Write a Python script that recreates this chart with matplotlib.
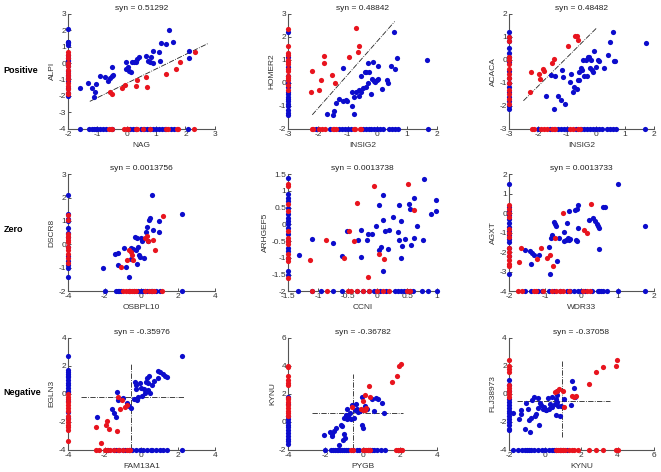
import numpy as np
import matplotlib
matplotlib.use("Agg")
from matplotlib import pyplot as plt
from matplotlib.ticker import FuncFormatter

plt.rcParams['font.family'] = ['Liberation Sans', 'DejaVu Sans']
plt.rcParams['axes.unicode_minus'] = False

BLUE = '#0c0ccc'
RED = '#e8141e'

row_names = ["Positive", "Zero", "Negative"]
titles = ["syn = 0.51292", "syn = 0.48842", "syn = 0.48482",
          "syn = 0.0013756", "syn = 0.0013738", "syn = 0.0013733",
          "syn = -0.35976", "syn = -0.36782", "syn = -0.37058"]
xlabels = ["NAG", "INSIG2", "INSIG2", "OSBPL10", "CCNI", "WDR33", "FAM13A1", "PYGB", "KYNU"]
ylabels = ["ALPI", "HOMER2", "ACACA", "DSCR8", "ARHGEF5", "AGXT", "EGLN3", "KYNU", "FLJ38973"]
xlims = [(-2, 3), (-3, 2), (-3, 2), (-4, 4), (-1.5, 1), (-2, 2), (-4, 4), (-4, 4), (-2, 6)]
ylims = [(-4, 3), (-2, 3), (-3, 2), (-2, 3), (-2, 1.5), (-4, 2), (-4, 4), (-2, 6), (-4, 4)]
xsteps = [1, 1, 1, 2, 0.5, 1, 2, 2, 2]
ysteps = [1, 1, 1, 1, 0.5, 1, 2, 2, 2]

# ---- panel 1 : NAG vs ALPI
p1_blue = [(-1.60,-1.54),(-1.32,-1.21),(-1.20,-1.52),(-1.11,-2.08),(-1.07,-1.78),(-1.06,-1.28),
           (-0.90,-0.81),(-0.75,-0.83),(-0.64,-1.07),(-0.58,-0.93),(-0.52,-0.77),(-0.49,-0.26),
           (-0.47,-0.71),(-0.03,-0.36),(-0.01,0.08),(0.05,-0.26),(0.08,-0.47),(0.16,-0.57),
           (0.19,0.08),(0.24,0.04),(0.31,0.04),(0.35,0.24),(0.42,0.38),(0.67,0.43),(0.73,0.14),
           (0.78,0.08),(0.84,0.38),(0.88,0.71),(0.90,-0.02),(1.10,0.65),(1.13,0.14),(1.18,1.23),
           (1.32,1.13),(1.44,2.02),(1.56,1.30),(2.11,0.71),(2.11,0.28)]
p1_red = [(-0.58,-1.78),(-0.50,-1.90),(-0.15,-1.54),(-0.07,-1.32),(0.36,-1.03),(0.33,-1.40),
          (0.64,-0.83),(0.69,-1.44),(1.33,-0.67),(1.69,-0.36),(1.81,0.04),(2.32,0.65)]
p1_blue_yonly = [2.05,1.3,1.25,1.2,1.1,0.5,0.3,0.2,0.1,0,-0.2,-0.5,-0.7,-0.9,-1.0,-1.1,-1.5,-1.8,-2.0]
p1_red_yonly = [0.7,0.5,0.3,0,-0.2,-0.4,-0.6,-0.8,-1.0,-1.2,-1.4,-1.6,-1.8,-1.9]
p1_blue_xonly = [-1.6,-1.3,-1.2,-1.1,-1.05,-1.0,-0.9,-0.8,-0.7,-0.5,0.1,0.2,0.3,0.5,0.6,0.7,
                 0.8,0.9,1.0,1.1,1.2,1.3,1.5,1.6,2.1]
p1_red_xonly = [-0.6,-0.55,-0.5,-0.1,0,0.05,0.3,0.35,0.55,0.8,1.35,1.4,1.7,1.75,2.3]
p1_line = [(-1.26,-2.33),(2.77,1.19)]

# ---- panel 2 : INSIG2 vs HOMER2
p2_blue = [(-1.68,-1.34),(-1.51,-1.39),(-1.46,-1.21),(-1.38,-0.88),(-1.28,-0.69),(-1.17,0.64),
           (-1.15,-0.78),(-1.06,-0.74),(-1.02,-0.78),(-0.87,-0.42),(-0.87,-1.0),(-0.80,-1.34),
           (-0.79,-0.62),(-0.71,-0.42),(-0.62,-0.59),(-0.62,-0.30),(-0.56,-0.38),(-0.54,0.30),
           (-0.48,-0.23),(-0.43,0.49),(-0.40,-0.19),(-0.37,0.49),(-0.33,0.87),(-0.33,-0.01),
           (-0.27,0.49),(-0.21,-0.48),(-0.18,0.16),(-0.15,0.92),(-0.13,0.06),(-0.07,0.03),
           (-0.03,0.13),(0.02,0.16),(0.02,0.71),(0.14,-0.27),(0.33,0.13),(0.36,-0.01),
           (0.47,0.74),(0.55,2.20),(0.60,0.59),(0.67,1.07),(1.68,1.00)]
p2_red = [(-2.24,-0.40),(-2.19,0.52),(-1.89,0.13),(-1.95,-0.32),(-1.80,1.18),(-1.79,0.88),
          (-1.53,0.35),(-1.42,0.01),(-0.95,1.11),(-0.73,2.37),(-0.65,1.33),(-0.63,1.60)]
p2_blue_yonly = [2.2,1.1,0.7,0.3,0,-0.2,-0.4,-0.5,-0.6,-0.7,-0.8,-0.9,-1.0,-1.2,-1.3,-1.4]
p2_red_yonly = [2.35,1.6,1.3,1.2,1.0,0.9,0.8,0.6,0.5,0.3,0.2,0.1,-0.1,-0.3]
p2_blue_xonly = [-2.05,-1.6,-1.3,-1.2,-1.1,-1.0,-0.9,-0.5,-0.4,-0.3,-0.2,-0.1,0,0.1,0.2,
                 0.4,0.5,0.6,0.7,1.7]
p2_red_xonly = [-2.2,-2.15,-1.95,-1.85,-1.75,-1.5,-1.45,-1.4,-0.8,-0.75,-0.6,-0.55]
p2_line = [(-2.19,-1.39),(0.58,2.66)]

# ---- panel 3 : INSIG2 vs ACACA
p3_blue = [(-1.71,-1.59),(-1.55,-0.65),(-1.40,-0.69),(-1.43,-2.14),(-1.30,-1.56),(-1.19,-1.73),
           (-1.16,-0.43),(-1.13,-0.77),(-1.05,-1.91),(-0.90,-0.98),(-0.85,-0.61),(-0.78,-1.42),
           (-0.76,-1.18),(-0.66,-1.27),(-0.60,-0.87),(-0.58,-0.55),(-0.58,-0.90),(-0.52,-0.36),
           (-0.47,-0.46),(-0.43,-0.03),(-0.41,-0.72),(-0.35,0.0),(-0.31,-0.72),(-0.27,0.12),
           (-0.22,0.10),(-0.19,-0.36),(-0.16,-0.03),(-0.13,-0.43),(-0.09,-0.55),(-0.05,0.36),
           (0.0,-0.33),(0.06,-0.03),(0.12,-0.07),(0.27,-0.36),(0.42,0.22),(0.50,0.77),
           (0.58,1.20),(0.62,-0.07),(0.67,-0.07),(1.74,0.72)]
p3_red = [(-2.27,-1.40),(-2.23,-0.51),(-1.98,-0.61),(-1.92,-0.84),(-1.83,-0.40),(-1.80,-0.48),
          (-1.53,-0.12),(-1.45,0.03),(-0.95,0.61),(-0.73,1.04),(-0.66,1.04),(-0.60,0.87)]
p3_blue_yonly = [1.2,1.0,0.8,0.5,0.3,0.1,-0.1,-0.5,-0.8,-1.0,-1.2,-1.4,-1.6,-1.8,-2.0,-2.15]
p3_red_yonly = [1.0,0.8,0.1,0,-0.2,-0.4,-0.6,-0.8,-1.0,-1.3,-1.5,-1.7,-1.9]
p3_blue_xonly = [-2.0,-1.6,-1.3,-1.2,-1.1,-1.0,-0.7,-0.5,-0.4,-0.3,-0.2,-0.1,0,0.1,0.2,
                 0.4,0.5,0.6,0.7,1.7]
p3_red_xonly = [-2.2,-2.15,-1.9,-1.8,-1.7,-1.5,-1.45,-1.4,-0.9,-0.8,-0.6,-0.55]
p3_line = [(-2.5,-1.78),(0.02,1.37)]

# ---- panel 4 : OSBPL10 vs DSCR8
p4_blue = [(-2.08,-1.02),(-1.46,-0.42),(-1.28,-0.37),(-1.28,-0.89),(-0.95,-0.16),(-0.86,-0.95),
           (-0.67,-1.39),(-0.58,-0.63),(-0.55,-0.16),(-0.44,-0.21),(-0.36,0.33),(-0.31,-0.24),
           (-0.26,0.26),(-0.22,-0.82),(-0.18,-0.13),(-0.13,-0.46),(-0.07,-0.53),(-0.04,0.27),
           (0.05,0.16),(0.11,0.23),(0.15,-0.59),(0.24,0.52),(0.29,0.76),(0.33,0.13),(0.39,1.05),
           (0.48,1.12),(0.55,2.09),(0.61,0.62),(0.94,0.54),(0.94,0.99),(2.20,1.30)]
p4_red = [(-1.09,-0.95),(-0.80,-0.67),(-0.67,-0.24),(-0.58,-0.34),(-0.49,-0.44),(-0.44,-0.67),
          (0.21,0.27),(0.30,0.37),(0.37,0.13),(0.61,0.19),(0.73,-0.24),(1.19,1.23)]
p4_blue_yonly = [2.1,1.3,1.1,1.0,0.7,0.5,0.3,-0.1,-0.5,-0.7,-0.9,-1.0,-1.4]
p4_red_yonly = [1.25,1.05,0.45,0.3,0.2,0.1,-0.1,-0.25,-0.4,-0.6,-0.8]
p4_blue_xonly = [-2.0,-1.4,-1.3,-1.2,-1.1,-0.7,-0.4,-0.2,0,0.1,0.2,0.3,0.5,0.6,0.8,1.0,2.2]
p4_red_xonly = [-1.0,-0.85,-0.7,-0.6,-0.5,-0.4,-0.3,0.2,0.4,0.6,0.7,1.1]

# ---- panel 5 : CCNI vs ARHGEF5
p5_blue = [(-1.32,-0.91),(-1.10,-0.45),(-0.75,-0.56),(-0.60,-0.96),(-0.51,-0.21),(-0.32,-0.48),
           (-0.28,-0.98),(-0.27,-0.18),(-0.18,-0.46),(-0.16,-0.30),(-0.09,-0.28),(-0.02,-0.06),
           (0.02,0.57),(0.02,-0.76),(0.06,-0.68),(0.09,0.14),(0.10,0.87),(0.10,-1.40),(0.13,-0.21),
           (0.18,-0.73),(0.19,-0.16),(0.26,0.22),(0.35,-0.23),(0.36,0.57),(0.37,-0.48),(0.39,0.09),
           (0.39,-1.01),(0.42,-0.66),(0.47,-0.45),(0.53,0.60),(0.55,0.45),(0.56,-0.61),(0.61,-0.40),
           (0.62,0.79),(0.66,-0.05),(0.76,-0.48),(0.79,1.37),(0.90,0.32),(0.99,0.39),(0.99,0.74)]
p5_red = [(-1.13,-1.06),(-0.86,-0.48),(-0.56,-1.00),(-0.47,-0.20),(-0.40,-0.51),(-0.34,0.64),
          (-0.16,-1.58),(-0.05,1.14),(0.03,-0.88),(0.11,-1.05),(0.51,1.20),(0.61,0.42)]
p5_blue_yonly = [1.4,0.9,0.8,0.7,0.5,0.3,0.2,0.1,0,-0.1,-0.3,-0.5,-0.7,-0.8,-1.0,-1.4,-1.5]
p5_red_yonly = [1.2,1.15,0.6,0.4,-0.2,-0.4,-0.5,-0.6,-0.9,-1.0,-1.1,-1.6]
p5_blue_xonly = [-1.33,-1.1,-0.95,-0.75,-0.6,-0.35,-0.25,-0.15,-0.05,0.05,0.15,0.3,0.35,0.4,
                 0.45,0.5,0.55,0.6,0.75,0.85,1.0]
p5_red_xonly = [-1.1,-0.85,-0.5,-0.45,-0.35,-0.25,-0.15,0.0,0.1,0.2,0.5,0.55]

# ---- panel 6 : WDR33 vs AGXT
p6_blue = [(-1.56,-1.89),(-1.41,-1.95),(-1.35,-2.04),(-1.30,-2.13),(-1.40,-2.58),(-1.17,-2.13),
           (-0.90,-1.75),(-0.88,-3.12),(-0.85,-1.26),(-0.82,-1.14),(-0.76,-0.45),(-0.72,-0.54),
           (-0.70,-0.67),(-0.68,-2.43),(-0.63,-1.26),(-0.49,-1.44),(-0.47,-0.94),(-0.43,-1.39),
           (-0.41,-0.49),(-0.38,-1.26),(-0.35,-1.39),(-0.34,0.09),(-0.32,-1.32),(-0.17,0.14),
           (-0.15,-1.35),(-0.11,0.23),(-0.11,-1.44),(-0.08,-0.77),(-0.08,0.41),(0.21,-0.36),
           (0.32,-0.27),(0.37,-0.41),(0.42,-0.54),(0.46,-0.67),(0.48,-1.86),(0.50,-0.76),
           (0.59,0.34),(0.64,0.31),(1.01,1.50),(1.75,-0.68)]
p6_red = [(-1.72,-2.49),(-1.68,-1.80),(-1.23,-2.34),(-1.11,-1.80),(-0.95,-2.31),(-0.86,-2.13),
          (-0.77,-2.70),(-0.72,-1.26),(-0.52,0.0),(0.07,-0.85),(0.16,-1.03),(0.28,0.45)]
p6_blue_yonly = [1.5,0.3,0.1,-0.1,-0.3,-0.5,-0.7,-0.9,-1.1,-1.3,-1.5,-1.8,-2.2,-3.1]
p6_red_yonly = [0.4,0.2,0.0,-0.2,-0.8,-1.0,-1.2,-1.8,-2.0,-2.2,-2.4,-2.6,-2.7]
p6_blue_xonly = [-1.55,-1.4,-1.2,-1.1,-0.9,-0.75,-0.6,-0.4,-0.3,-0.2,-0.1,0.0,0.1,0.3,0.45,
                 0.5,0.55,0.6,0.7,1.0,1.75]
p6_red_xonly = [-1.75,-1.65,-1.3,-1.25,-1.05,-0.8,-0.7,-0.6,-0.5,-0.35,0.05,0.15,0.25]

# ---- panel 7 : FAM13A1 vs EGLN3
p7_blue = [(-2.41,-1.62),(-1.59,-1.10),(-1.50,-1.34),(-1.40,-1.67),(-1.31,0.10),(-1.28,-0.43),
           (-0.98,-0.31),(-0.80,-0.62),(-0.67,-0.86),(-0.58,-1.03),(-0.40,-0.38),(-0.37,0.88),
           (-0.31,0.64),(-0.31,0.33),(-0.22,-0.43),(-0.18,-0.19),(-0.07,0.81),(-0.04,0.41),
           (0.05,-0.14),(0.15,0.33),(0.18,0.05),(0.24,0.88),(0.29,1.12),(0.33,0.29),(0.37,0.76),
           (0.42,1.29),(0.48,0.05),(0.55,0.64),(0.66,0.95),(0.88,1.12),(0.92,1.67),(1.03,1.53),
           (1.16,1.41),(1.28,1.29),(1.39,1.24),(2.22,2.72)]
p7_red = [(-2.50,-2.39),(-2.19,-3.48),(-1.95,-2.22),(-1.90,-1.91),(-1.77,-2.51),(-1.35,-2.63),
          (-1.28,-0.24),(-1.17,-1.10),(-1.04,-0.43),(-0.91,-0.91),(-0.80,-0.79)]
p7_blue_yonly = [2.7,1.7,1.6,1.4,1.3,1.2,1.0,0.8,0.6,0.4,0.2,0.1,-0.5,-1.3,-1.7]
p7_red_yonly = [0.0,-0.2,-0.4,-0.6,-0.8,-1.0,-1.2,-1.6,-1.8,-2.0,-2.2,-2.4,-2.6,-3.4]
p7_blue_xonly = [-1.8,-1.5,-1.4,-1.2,-1.0,-0.9,-0.7,-0.5,-0.3,-0.1,0.1,0.3,0.5,0.6,0.8,1.0,
                 1.2,1.4,2.2]
p7_red_xonly = [-2.5,-2.3,-2.0,-1.9,-1.7,-1.5,-1.3,-1.2,-1.0,-0.8,-0.7,-0.6]
p7_hline = (-0.24, -3.32, 2.34)   # y, x from, x to
p7_vline = (-0.58, -3.96, 2.15)   # x, y from, y to

# ---- panel 8 : PYGB vs KYNU
p8_blue = [(-2.07,-0.96),(-1.73,-0.75),(-1.64,-0.84),(-1.62,-0.99),(-1.53,-0.67),(-1.44,-0.43),
           (-1.27,-1.63),(-1.18,-0.19),(-1.13,-0.31),(-1.07,-1.27),(-1.00,-0.84),(-0.95,-1.15),
           (-1.00,0.29),(-0.89,0.46),(-0.85,0.89),(-0.82,0.22),(-0.76,0.46),(-0.71,0.29),
           (-0.67,0.65),(-0.64,0.17),(-0.58,1.18),(-0.45,0.29),(-0.40,0.84),(-0.35,1.30),
           (-0.31,0.89),(-0.22,0.70),(-0.13,0.77),(-0.04,1.80),(-0.04,-0.19),(0.02,-0.43),
           (0.15,1.13),(0.24,0.89),(0.51,1.61),(0.60,0.77),(0.73,1.73),(0.82,1.61),(1.05,1.32),
           (1.18,0.60)]
p8_red = [(-0.58,1.08),(-0.07,0.89),(0.02,1.49),(0.05,0.84),(0.11,0.82),(0.15,1.90),(0.20,1.01),
          (0.33,2.57),(0.38,1.80),(1.60,2.86),(1.84,3.29),(1.96,4.01),(2.05,4.13)]
p8_blue_yonly = [1.8,1.3,0.4,0.2,0,-0.2,-0.4,-0.6,-0.8,-1.0,-1.2,-1.4,-1.6]
p8_red_yonly = [4.0,3.9,3.3,3.0,2.8,2.6,1.7,1.6,1.4,1.2,1.0,0.8,0.6,0.4]
p8_blue_xonly = [-2.0,-1.7,-1.6,-1.5,-1.4,-1.3,-1.2,-1.1,-1.0,-0.9,-0.8,-0.5,-0.3,-0.2,0.1,
                 0.3,0.4,0.5,0.6,0.8,1.0,1.2]
p8_red_xonly = [-0.6,-0.5,0.0,0.1,0.2,0.3,0.35,0.4,1.8,1.9,2.0,2.05,2.1]
p8_hline = (0.60, -2.71, 2.15)
p8_vline = (-0.53, -1.95, 3.41)

# ---- panel 9 : KYNU vs FLJ38973
p9_blue = [(-1.76,-1.34),(-1.45,-1.81),(-1.36,-1.15),(-1.36,-1.43),(-1.12,-2.53),(-1.04,-0.67),
           (-0.95,-1.10),(-0.90,-1.86),(-0.86,-2.70),(-0.81,-1.74),(-0.72,-0.43),(-0.62,-0.24),
           (-0.57,-1.58),(-0.48,-1.43),(-0.42,-1.03),(-0.37,-0.31),(-0.33,-2.22),(-0.29,-0.62),
           (-0.24,-0.79),(-0.11,-1.10),(-0.06,-0.95),(0.04,-1.15),(0.07,-1.15),(0.18,-0.31),
           (0.22,-1.10),(0.26,-0.72),(0.31,-0.95),(0.37,-0.95),(0.40,-0.24),(0.55,-0.74),
           (0.59,-1.50),(0.62,-0.38),(0.64,-0.07),(0.68,0.24),(0.68,-0.55),(0.73,-0.86),
           (0.81,-1.58),(0.86,-0.86),(1.04,-0.38),(1.41,-0.79),(1.46,0.95),(1.59,0.41),(1.64,-0.19)]
p9_red = [(0.55,0.17),(0.68,0.24),(0.77,0.33),(0.99,0.21),(1.04,-0.91),(1.46,-0.14),(1.59,-0.19),
          (1.71,-0.14),(2.45,0.69),(2.79,1.60),(3.20,1.91),(3.90,2.00),(3.99,2.43)]
p9_blue_yonly = [1.0,0.6,0.2,-0.4,-0.6,-0.8,-1.0,-1.2,-1.4,-1.6,-1.8,-2.0,-2.2,-2.5,-2.6]
p9_red_yonly = [2.4,2.0,1.8,1.6,0.6,0.4,0.2,0.0,-0.2]
p9_blue_xonly = [-1.8,-1.5,-1.3,-1.1,-1.0,-0.9,-0.8,-0.6,-0.4,-0.2,0,0.2,0.4,0.5,0.6,0.8,1.0,1.2]
p9_red_xonly = [0.6,0.7,0.8,0.9,1.0,1.1,1.3,1.5,1.6,1.8,2.4,2.8,3.2,3.9,4.0]
p9_hline = (-0.48, -1.54, 3.58)
p9_vline = (0.94, -3.05, 2.43)

blues = [p1_blue, p2_blue, p3_blue, p4_blue, p5_blue, p6_blue, p7_blue, p8_blue, p9_blue]
reds = [p1_red, p2_red, p3_red, p4_red, p5_red, p6_red, p7_red, p8_red, p9_red]
blue_yonly = [p1_blue_yonly, p2_blue_yonly, p3_blue_yonly, p4_blue_yonly, p5_blue_yonly,
              p6_blue_yonly, p7_blue_yonly, p8_blue_yonly, p9_blue_yonly]
red_yonly = [p1_red_yonly, p2_red_yonly, p3_red_yonly, p4_red_yonly, p5_red_yonly,
             p6_red_yonly, p7_red_yonly, p8_red_yonly, p9_red_yonly]
blue_xonly = [p1_blue_xonly, p2_blue_xonly, p3_blue_xonly, p4_blue_xonly, p5_blue_xonly,
              p6_blue_xonly, p7_blue_xonly, p8_blue_xonly, p9_blue_xonly]
red_xonly = [p1_red_xonly, p2_red_xonly, p3_red_xonly, p4_red_xonly, p5_red_xonly,
             p6_red_xonly, p7_red_xonly, p8_red_xonly, p9_red_xonly]
diag_lines = {0: p1_line, 1: p2_line, 2: p3_line}
cross_lines = {6: (p7_hline, p7_vline), 7: (p8_hline, p8_vline), 8: (p9_hline, p9_vline)}

fig = plt.figure(figsize=(6.61, 4.72), dpi=100)
col_left = [0.103, 0.436, 0.770]
col_w = [0.222, 0.225, 0.219]
row_bot = [0.727, 0.383, 0.047]
row_h = [0.244, 0.248, 0.237]

S = 14
fmt = FuncFormatter(lambda v, p: '%g' % v)

for i in range(9):
    r, c = divmod(i, 3)
    ax = fig.add_axes([col_left[c], row_bot[r], col_w[c], row_h[r]])
    x0, x1 = xlims[i]
    y0, y1 = ylims[i]

    # missing values are put on the axes
    ax.scatter(np.full(len(blue_yonly[i]), x0), blue_yonly[i], s=S, c=BLUE, lw=0, clip_on=False, zorder=3)
    ax.scatter(np.full(len(red_yonly[i]), x0), red_yonly[i], s=S, c=RED, lw=0, clip_on=False, zorder=3)
    ax.scatter(blue_xonly[i], np.full(len(blue_xonly[i]), y0), s=S, c=BLUE, lw=0, clip_on=False, zorder=3)
    ax.scatter(red_xonly[i], np.full(len(red_xonly[i]), y0), s=S, c=RED, lw=0, clip_on=False, zorder=3)

    b = np.array(blues[i])
    rd = np.array(reds[i])
    ax.scatter(b[:, 0], b[:, 1], s=S, c=BLUE, lw=0, clip_on=False, zorder=3)
    ax.scatter(rd[:, 0], rd[:, 1], s=S, c=RED, lw=0, clip_on=False, zorder=3)

    if i in diag_lines:
        (a1, b1), (a2, b2) = diag_lines[i]
        ax.plot([a1, a2], [b1, b2], color='#222222', ls='-.', lw=0.6, zorder=2)
    if i in cross_lines:
        h, v = cross_lines[i]
        ax.plot([h[1], h[2]], [h[0], h[0]], color='#222222', ls='-.', lw=0.6, zorder=2)
        ax.plot([v[0], v[0]], [v[1], v[2]], color='#222222', ls='-.', lw=0.6, zorder=2)

    ax.set_xlim(x0, x1)
    ax.set_ylim(y0, y1)
    ax.set_xticks(np.arange(x0, x1 + 1e-9, xsteps[i]))
    ax.set_yticks(np.arange(y0, y1 + 1e-9, ysteps[i]))
    ax.xaxis.set_major_formatter(fmt)
    ax.yaxis.set_major_formatter(fmt)
    for sp in ['top', 'right']:
        ax.spines[sp].set_visible(False)
    for sp in ['left', 'bottom']:
        ax.spines[sp].set_color('#555555')
        ax.spines[sp].set_linewidth(0.8)
    ax.tick_params(direction='in', length=2, width=0.6, labelsize=6, colors='#333333', pad=1.5)
    ax.set_title(titles[i], fontsize=6, pad=3, color='#222222')
    ax.set_xlabel(xlabels[i], fontsize=6, labelpad=3, color='#333333')
    ax.set_ylabel(ylabels[i], fontsize=6, labelpad=2, color='#333333')

row_y = [0.850, 0.513, 0.168]
for name, yy in zip(row_names, row_y):
    fig.text(0.005, yy, name, fontsize=6.5, fontweight='bold', va='center', ha='left')

fig.savefig("out.png", dpi=100)
